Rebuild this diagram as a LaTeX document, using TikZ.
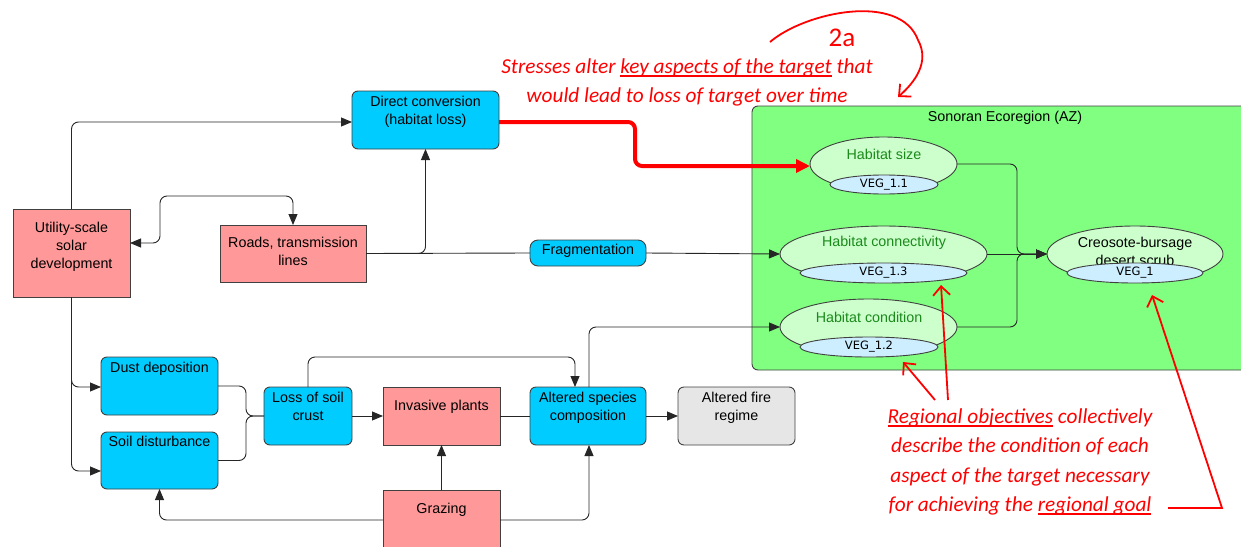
\documentclass[tikz,border=0pt]{standalone}
\usepackage{fontspec}
\setmainfont{Liberation Sans}
\newfontfamily\vegfont{DejaVu Sans}
\newfontfamily\annfont{Carlito}
\usetikzlibrary{arrows.meta,shapes.geometric}
\definecolor{pinkf}{HTML}{FF9999}
\definecolor{cyanf}{HTML}{00CCFF}
\definecolor{greenbg}{HTML}{80FF80}
\definecolor{ellf}{HTML}{CCFFCC}
\definecolor{vegf}{HTML}{CCEEFF}
\definecolor{greyf}{HTML}{E6E6E6}
\definecolor{bord}{HTML}{404040}
\definecolor{txtgreen}{HTML}{1A8A1A}
\definecolor{annred}{HTML}{FF0000}
\newcommand\redul[1]{\setbox0\hbox{#1}\rlap{\rule[-3.2pt]{\wd0}{1.7pt}}\box0\relax}
\tikzset{
  box/.style={draw=bord, line width=0.9pt, inner sep=0pt, outer sep=0pt},
  pinkbox/.style={box, fill=pinkf},
  cyanbox/.style={box, fill=cyanf, rounded corners=6pt},
  greybox/.style={box, fill=greyf, rounded corners=6pt},
  txt/.style={font=\fontsize{14.3}{18}\selectfont, align=center, inner sep=0pt, anchor=north},
  ell/.style={ellipse, draw=bord, line width=0.9pt, fill=ellf, inner sep=0pt, outer sep=0pt},
  veg/.style={ellipse, draw=bord, line width=0.9pt, fill=vegf, inner sep=0pt, outer sep=0pt},
  vegtxt/.style={font=\vegfont\fontsize{11.5}{13}\selectfont, inner sep=0pt},
  eltxt/.style={font=\fontsize{14.3}{18}\selectfont, text=txtgreen, inner sep=0pt},
  conn/.style={draw=black!85, line width=0.9pt, rounded corners=7pt},
  arr/.style={conn, -{Triangle[length=11pt,width=9pt]}},
  redthick/.style={draw=annred, line width=4pt, rounded corners=7pt, -{Triangle[length=14pt,width=13pt]}},
  redarr/.style={draw=annred, line width=1.8pt, -{Straight Barb[length=9pt,width=17pt,line width=1.8pt]}},
  ann/.style={font=\annfont\itshape\fontsize{21.3}{29.5}\selectfont, text=annred, align=center, inner sep=0pt}
}
\begin{document}
\begin{tikzpicture}[x=1pt,y=-1pt]
\useasboundingbox (0,0) rectangle (1241,546);
% green region
\node[draw=bord, line width=0.9pt, fill=greenbg, rounded corners=6pt, minimum width=500pt, minimum height=264pt, inner sep=0pt] (region) at (1002,238) {};
\node[txt] (regiont) at (1005,110.5) {Sonoran Ecoregion (AZ)};

% boxes
\node[pinkbox, minimum width=117pt, minimum height=88pt] (util) at (71.5,253) {};
\node[txt] (utilt) at (71.5,221.5) {Utility-scale\\solar\\development};
\node[pinkbox, minimum width=146pt, minimum height=57pt] (roads) at (293,253.5) {};
\node[txt] (roadst) at (293,236.5) {Roads, transmission\\lines};
\node[cyanbox, minimum width=147pt, minimum height=58pt] (direct) at (425.5,120) {};
\node[txt] (directt) at (425.5,96) {Direct conversion\\(habitat loss)};
\node[cyanbox, rounded corners=8pt, minimum width=116pt, minimum height=26pt] (frag) at (588,253) {};
\node[txt] (fragt) at (588,244) {Fragmentation};
\node[cyanbox, minimum width=117pt, minimum height=58pt] (dust) at (159.5,386) {};
\node[txt] (dustt) at (159.5,362) {Dust deposition};
\node[cyanbox, minimum width=117pt, minimum height=57pt] (soil) at (159.5,460.5) {};
\node[txt] (soilt) at (159.5,436) {Soil disturbance};
\node[cyanbox, minimum width=88pt, minimum height=58pt] (crust) at (308,416) {};
\node[txt] (crustt) at (308,392) {Loss of soil\\crust};
\node[pinkbox, minimum width=117pt, minimum height=58pt] (inv) at (441.5,416) {};
\node[txt] (invt) at (441.5,400) {Invasive plants};
\node[cyanbox, minimum width=116pt, minimum height=58pt] (spec) at (588,416) {};
\node[txt] (spect) at (588,392) {Altered species\\composition};
\node[greybox, minimum width=117pt, minimum height=58pt] (fire) at (736.5,416) {};
\node[txt] (firet) at (736.5,392) {Altered fire\\regime};
\node[pinkbox, minimum width=117pt, minimum height=60pt] (graz) at (441.5,520) {};
\node[txt] (grazt) at (441.5,503) {Grazing};

% ellipses
\node[ell, minimum width=147pt, minimum height=54pt] (hsize) at (883.5,164) {};
\node[eltxt] (hsizet) at (884,154) {Habitat size};
\node[veg, minimum width=108pt, minimum height=19pt] (v11) at (884,184.5) {};
\node[vegtxt] (v11t) at (884,184.5) {VEG\_1.1};

\node[ell, minimum width=207pt, minimum height=56pt] (hconn) at (883.5,254) {};
\node[eltxt] (hconnt) at (884,243) {Habitat connectivity};
\node[veg, minimum width=167pt, minimum height=20pt] (v13) at (883.5,273) {};
\node[vegtxt] (v13t) at (883.5,273) {VEG\_1.3};

\node[ell, minimum width=177pt, minimum height=56pt] (hcond) at (868.5,327) {};
\node[eltxt] (hcondt) at (869,317) {Habitat condition};
\node[veg, minimum width=138pt, minimum height=20pt] (v12) at (869,347) {};
\node[vegtxt] (v12t) at (869,347) {VEG\_1.2};

\node[ell, minimum width=176pt, minimum height=56pt] (creo) at (1135,254) {};
\node[txt, text=black] (creot) at (1135,236.5) {Creosote-bursage\\desert scrub};
\node[veg, minimum width=136pt, minimum height=20pt] (v1) at (1135,273) {};
\node[vegtxt] (v1t) at (1135,273) {VEG\_1};

% connectors
\draw[arr] (util.north) |- ([yshift=-2pt]direct.west);
\draw[conn, {Triangle[length=11pt,width=9pt]}-{Triangle[length=11pt,width=9pt]}] ([yshift=10pt]util.east) -| (160,196) -| (roads.north);
\draw[arr] (roads.east) -| (direct.south);
\draw[conn] (roads.east) -- (frag.west);
\draw[arr] (frag.east) -- (hconn.west);
\draw[redthick] ([yshift=-2pt]direct.east) -| (635,166) -- ([yshift=-2pt]hsize.west);
\draw[arr] (hsize.east) -| (1017,254) -- (creo.west);
\draw[arr] (hconn.east) -- (creo.west);
\draw[arr] (hcond.east) -| (1017,254) -- (creo.west);
\draw[arr] (util.south) |- ([yshift=-1pt]dust.west);
\draw[arr] (util.south) |- ([yshift=-10.5pt]soil.west);
\draw[conn] (dust.east) -| (246,416) -- (crust.west);
\draw[conn] (soil.east) -| (246,416) -- (crust.west);
\draw[arr] (crust.east) -- (inv.west);
\draw[arr] (crust.north) -- ++(0,-30) -| ([xshift=-13pt]spec.north);
\draw[conn] (inv.east) -- (spec.west);
\draw[arr] ([xshift=1pt]spec.north) |- (hcond.west);
\draw[arr] (spec.east) -- (fire.west);
\draw[arr] (graz.north) -- (inv.south);
\draw[arr] (graz.west) -| (soil.south);
\draw[arr] (graz.east) -| ([xshift=1pt]spec.south);

% annotations
\node[font=\annfont\fontsize{27}{30}\selectfont, text=annred, inner sep=0pt] (lab2a) at (842,38) {2a};
\coordinate (a2s) at (770,42);
\coordinate (a2m) at (918,40);
\coordinate (a2e) at (898,97);
\draw[redarr] (a2s) .. controls (805,12) and (900,-8) .. (a2m) .. controls (930,62) and (915,82) .. (a2e);
\node[ann] (ann1) at (687,82.5) {Stresses alter \redul{key aspects of the target} that\\would lead to loss of target over time};
\node[ann] (ann2) at (1020,462) {\redul{Regional objectives} collectively\\describe the condition of each\\aspect of the target necessary\\for achieving the \redul{regional goal}};
\coordinate (r1s) at (935,400);
\coordinate (r1e) at (903,362);
\coordinate (r2s) at (948,400);
\coordinate (r2e) at (941,285);
\coordinate (r3s) at (1168,508);
\coordinate (r3m) at (1222,508);
\coordinate (r3e) at (1152,295);
\draw[redarr] (r1s) -- (r1e);
\draw[redarr] (r2s) -- (r2e);
\draw[redarr] (r3s) -- (r3m) -- (r3e);
\end{tikzpicture}
\end{document}
